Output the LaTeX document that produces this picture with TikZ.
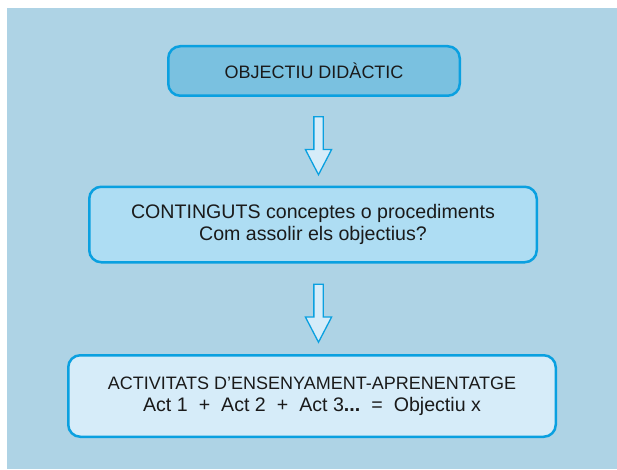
\documentclass[tikz,border=0pt]{standalone}
\usepackage{fontspec}
\setmainfont{Liberation Sans}
\usepackage{xcolor}
\usepackage{tikz}
\usetikzlibrary{positioning,calc,shapes.arrows}
\definecolor{planbg}{HTML}{AED3E5}
\definecolor{planline}{HTML}{0AA0E0}
\definecolor{goalfill}{HTML}{7AC1E0}
\definecolor{topicfill}{HTML}{AEDDF3}
\definecolor{actfill}{HTML}{D6ECF9}
\definecolor{plantext}{HTML}{1A1A1A}
\newcommand{\opsp}{\hspace{11pt}}

\begin{document}
\begin{tikzpicture}[x=1pt,y=1pt,font=\fontsize{18}{22.5}\selectfont,text=plantext]
\tikzset{box/.style={draw=planline,line width=2.5pt,rounded corners=12pt,align=center},
downarr/.style={single arrow,shape border rotate=270,draw=planline,line width=1.3pt,fill=actfill,
  inner sep=4pt,minimum height=58pt,single arrow head extend=8.5pt,single arrow tip angle=55}}
\fill[planbg] (7,0) rectangle (617,461);
\useasboundingbox (0,0) rectangle (617,469);
\node[box,fill=goalfill,minimum width=291.5pt,minimum height=49.5pt] (goal) at (314,398) {OBJECTIU DIDÀCTIC};
\node[box,fill=topicfill,minimum width=447.5pt,minimum height=75.5pt,below=88.5pt of goal,xshift=-1pt,
  font=\fontsize{19.6}{22.5}\selectfont] (topic)
  {CONTINGUTS conceptes o procediments\\Com assolir els objectius?};
\node[box,fill=actfill,minimum width=487.5pt,minimum height=81.5pt,below=90.5pt of topic,xshift=-1pt] (acts)
  {ACTIVITATS D’ENSENYAMENT-APRENENTATGE\\{\fontsize{19.6}{22.5}\selectfont
   Act 1\opsp+\opsp Act 2\opsp+\opsp Act 3\textbf{...}\opsp=\opsp Objectiu x}};
\node[downarr] (step1) at ($(goal.south)!.5!(topic.north)+(5,0)$) {};
\node[downarr] (step2) at ($(topic.south)!.5!(acts.north)+(6,0)$) {};
\end{tikzpicture}
\end{document}
